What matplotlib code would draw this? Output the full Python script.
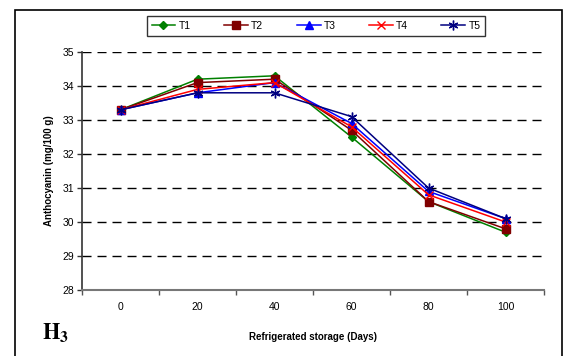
import numpy as np
import matplotlib.pyplot as plt
from matplotlib.patches import Rectangle
from matplotlib.lines import Line2D

plt.rcParams['font.family'] = ['Liberation Sans', 'DejaVu Sans']
plt.rcParams['mathtext.fontset'] = 'stix'
plt.rcParams['lines.scale_dashes'] = False

days = [0, 20, 40, 60, 80, 100]
t1 = [33.3, 34.2, 34.3, 32.5, 30.6, 29.7]
t2 = [33.3, 34.1, 34.2, 32.7, 30.6, 29.8]
t3 = [33.3, 33.8, 34.1, 32.9, 30.9, 30.1]
t4 = [33.3, 33.9, 34.1, 32.8, 30.8, 30.0]
t5 = [33.3, 33.8, 33.8, 33.1, 31.0, 30.1]
names = ['T1', 'T2', 'T3', 'T4', 'T5']

styles = [
    dict(color='#008000', marker='D', ms=4.5),
    dict(color='#800000', marker='s', ms=5.5),
    dict(color='#0000FF', marker='^', ms=6),
    dict(color='#FF0000', marker='x', ms=6, mew=1),
    dict(color='#000080', marker=(6, 2, 0), ms=7, mew=1),
]

fig = plt.figure(figsize=(5.66, 3.56), dpi=100)
ax = fig.add_axes([82/566, 1 - 290/356, (544 - 82)/566, 238/356])

x = np.arange(len(days))
for vals, name, st in zip([t1, t2, t3, t4, t5], names, styles):
    ax.plot(x, vals, lw=1.1, label=name, **st)

ax.set_xlim(-0.5, len(days) - 0.5)
ax.set_ylim(28, 35)
ax.set_yticks(range(28, 36))
for yv in range(29, 36):
    ax.axhline(yv, color='black', lw=1.0, ls=(0, (6.5, 4.3)), zorder=0)

# category axis: ticks on boundaries, labels in the middle
ax.set_xticks(np.arange(-0.5, len(days), 1.0))
ax.set_xticklabels([])
ax.set_xticks(x, minor=True)
ax.set_xticklabels([str(d) for d in days], minor=True)
ax.tick_params(axis='x', which='minor', length=0, pad=9, labelsize=7.5)
ax.tick_params(axis='x', which='major', length=3.5, width=1, color='#555555', direction='out')
ax.tick_params(axis='y', length=3.5, width=1, labelsize=7.5, pad=2, color='#333333')

for s in ['top', 'right']:
    ax.spines[s].set_visible(False)
ax.spines['left'].set_color('#333333')
ax.spines['bottom'].set_color('#777777')
ax.spines['left'].set_linewidth(1.2)
ax.spines['bottom'].set_linewidth(1.5)

ax.set_ylabel('Anthocyanin (mg/100 g)', fontsize=7, fontweight='bold', labelpad=6)
fig.text(313/566, 1 - 337/356, 'Refrigerated storage (Days)', fontsize=7,
         fontweight='bold', ha='center', va='center')
fig.text(42/566, 1 - 332/356, r'$\mathbf{H}_{\mathbf{3}}$', fontsize=16,
         ha='left', va='center')

leg = fig.legend(loc='center', bbox_to_anchor=(316/566, 1 - 26/356), ncol=5,
                 fontsize=7.5, frameon=True, fancybox=False, edgecolor='black',
                 handlelength=2.3, columnspacing=3.2, handletextpad=0.3,
                 borderpad=0.45)
leg.get_frame().set_linewidth(1.0)

fig.patches.append(Rectangle((15/566, -0.02), (562 - 15)/566, 1.02 - 10/356,
                             transform=fig.transFigure, fill=False,
                             edgecolor='black', lw=1.2))

fig.savefig('out.png', dpi=100)
